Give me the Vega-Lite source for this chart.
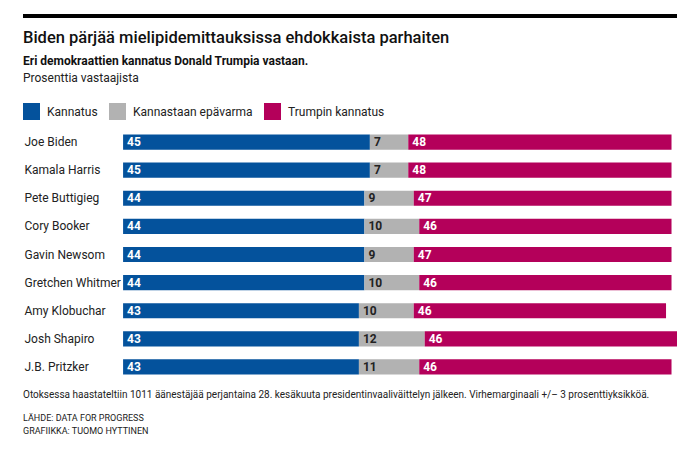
{
  "$schema": "https://vega.github.io/schema/vega-lite/v6.json",
  "background": "white",
  "padding": {"left": 23, "top": 10, "right": 5, "bottom": 5},
  "spacing": 8,
  "resolve": {"legend": {"color": "independent"}, "scale": {"color": "independent"}},
  "config": {
    "font": "Roboto",
    "view": {"stroke": null},
    "title": {"anchor": "start", "frame": "bounds", "color": "#111"}
  },
  "datasets": {
    "poll": [
      {"name": "Joe Biden", "category": "Kannatus", "order": 1, "value": 45},
      {"name": "Joe Biden", "category": "Kannastaan epävarma", "order": 2, "value": 7},
      {"name": "Joe Biden", "category": "Trumpin kannatus", "order": 3, "value": 48},
      {"name": "Kamala Harris", "category": "Kannatus", "order": 1, "value": 45},
      {"name": "Kamala Harris", "category": "Kannastaan epävarma", "order": 2, "value": 7},
      {"name": "Kamala Harris", "category": "Trumpin kannatus", "order": 3, "value": 48},
      {"name": "Pete Buttigieg", "category": "Kannatus", "order": 1, "value": 44},
      {"name": "Pete Buttigieg", "category": "Kannastaan epävarma", "order": 2, "value": 9},
      {"name": "Pete Buttigieg", "category": "Trumpin kannatus", "order": 3, "value": 47},
      {"name": "Cory Booker", "category": "Kannatus", "order": 1, "value": 44},
      {"name": "Cory Booker", "category": "Kannastaan epävarma", "order": 2, "value": 10},
      {"name": "Cory Booker", "category": "Trumpin kannatus", "order": 3, "value": 46},
      {"name": "Gavin Newsom", "category": "Kannatus", "order": 1, "value": 44},
      {"name": "Gavin Newsom", "category": "Kannastaan epävarma", "order": 2, "value": 9},
      {"name": "Gavin Newsom", "category": "Trumpin kannatus", "order": 3, "value": 47},
      {"name": "Gretchen Whitmer", "category": "Kannatus", "order": 1, "value": 44},
      {"name": "Gretchen Whitmer", "category": "Kannastaan epävarma", "order": 2, "value": 10},
      {"name": "Gretchen Whitmer", "category": "Trumpin kannatus", "order": 3, "value": 46},
      {"name": "Amy Klobuchar", "category": "Kannatus", "order": 1, "value": 43},
      {"name": "Amy Klobuchar", "category": "Kannastaan epävarma", "order": 2, "value": 10},
      {"name": "Amy Klobuchar", "category": "Trumpin kannatus", "order": 3, "value": 46},
      {"name": "Josh Shapiro", "category": "Kannatus", "order": 1, "value": 43},
      {"name": "Josh Shapiro", "category": "Kannastaan epävarma", "order": 2, "value": 12},
      {"name": "Josh Shapiro", "category": "Trumpin kannatus", "order": 3, "value": 46},
      {"name": "J.B. Pritzker", "category": "Kannatus", "order": 1, "value": 43},
      {"name": "J.B. Pritzker", "category": "Kannastaan epävarma", "order": 2, "value": 11},
      {"name": "J.B. Pritzker", "category": "Trumpin kannatus", "order": 3, "value": 46}
    ],
    "blank": [{"k": 1}]
  },
  "vconcat": [
    {
      "width": 654,
      "height": 4,
      "view": {"fill": "#000000", "stroke": null},
      "data": {"name": "blank"},
      "mark": {"type": "text", "opacity": 0},
      "encoding": {}
    },
    {
      "width": 654,
      "height": 253,
      "data": {"name": "poll"},
      "title": {
        "text": "Biden pärjää mielipidemittauksissa ehdokkaista parhaiten",
        "subtitle": "Eri demokraattien kannatus Donald Trumpia vastaan.",
        "fontSize": 16.5,
        "fontWeight": 500,
        "subtitleFontSize": 12,
        "subtitleFontWeight": "bold",
        "subtitleColor": "#111",
        "subtitlePadding": 10,
        "offset": 6
      },
      "transform": [
        {"stack": "value", "groupby": ["name"], "sort": [{"field": "order", "order": "ascending"}], "as": ["v0", "v1"]}
      ],
      "encoding": {
        "y": {
          "field": "name",
          "type": "nominal",
          "sort": ["Joe Biden", "Kamala Harris", "Pete Buttigieg", "Cory Booker", "Gavin Newsom", "Gretchen Whitmer", "Amy Klobuchar", "Josh Shapiro", "J.B. Pritzker"],
          "scale": {"paddingInner": 0.46, "paddingOuter": 0.23},
          "axis": {
            "title": null,
            "ticks": false,
            "domain": false,
            "labelAlign": "left",
            "labelPadding": -1,
            "labelFontSize": 12,
            "labelColor": "#222"
          }
        }
      },
      "layer": [
        {
          "mark": {"type": "bar"},
          "encoding": {
            "x": {"field": "v0", "type": "quantitative", "scale": {"domain": [-18.25, 101], "nice": false, "zero": false}, "axis": null},
            "x2": {"field": "v1"},
            "color": {
              "field": "category",
              "type": "nominal",
              "scale": {
                "domain": ["Kannatus", "Kannastaan epävarma", "Trumpin kannatus"],
                "range": ["#04529c", "#b2b2b2", "#b4005a"]
              },
              "legend": {
                "title": "Prosenttia vastaajista",
                "orient": "top",
                "direction": "horizontal",
                "symbolType": "square",
                "symbolSize": 289,
                "symbolStrokeWidth": 0,
                "symbolOpacity": 1,
                "labelFontSize": 12,
                "labelColor": "#222",
                "labelOffset": 7,
                "columnPadding": 11,
                "titleFontSize": 12,
                "titleFontWeight": "normal",
                "titleColor": "#222",
                "titlePadding": 18,
                "padding": 0,
                "offset": 8
              }
            }
          }
        },
        {
          "mark": {"type": "text", "align": "left", "dx": 4, "fontWeight": "bold", "fontSize": 12},
          "encoding": {
            "x": {"field": "v0", "type": "quantitative"},
            "text": {"field": "value", "type": "quantitative"},
            "color": {
              "condition": {"test": "datum.category === 'Kannastaan epävarma'", "value": "#222"},
              "value": "#ffffff"
            }
          }
        }
      ]
    },
    {
      "width": 654,
      "height": 1,
      "data": {"name": "blank"},
      "title": {
        "text": "Otoksessa haastateltiin 1011 äänestäjää perjantaina 28. kesäkuuta presidentinvaaliväittelyn jälkeen. Virhemarginaali +/– 3 prosenttiyksikköä.",
        "subtitle": ["LÄHDE: DATA FOR PROGRESS", "GRAFIIKKA: TUOMO HYTTINEN"],
        "fontSize": 10,
        "fontWeight": "normal",
        "color": "#222",
        "subtitleFontSize": 9,
        "subtitleColor": "#222",
        "subtitleLineHeight": 13,
        "subtitlePadding": 14,
        "offset": 0,
        "dy": 2
      },
      "mark": {"type": "text", "opacity": 0},
      "encoding": {}
    }
  ]
}
